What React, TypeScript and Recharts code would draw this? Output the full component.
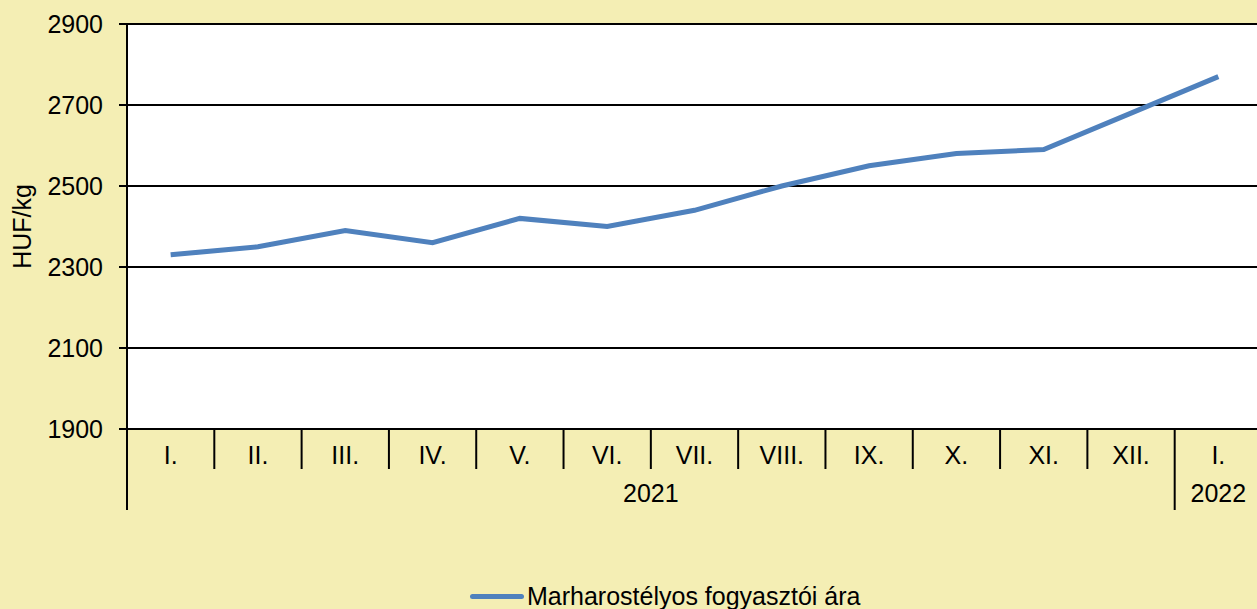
import React from "react"
import { LineChart, Line, XAxis, YAxis, CartesianGrid, Label } from "recharts"

const months = ["I.", "II.", "III.", "IV.", "V.", "VI.", "VII.", "VIII.", "IX.", "X.", "XI.", "XII.", "I."]
const prices = [2330, 2350, 2390, 2360, 2420, 2400, 2440, 2500, 2550, 2580, 2590, 2680, 2770]
const yTicks = [1900, 2100, 2300, 2500, 2700, 2900]
const years = ["2021", "2022"]

const data = months.map((m, i) => ({ idx: i, month: m, price: prices[i] }))
const xTicks = months.map((_, i) => i)

const W = 1257
const H = 609
const RIGHT_OVERHANG = 5
const PLOT_LEFT = 127
const PLOT_TOP = 24
const PLOT_BOTTOM = 429
const BW = (W + RIGHT_OVERHANG - PLOT_LEFT) / months.length
const FONT = "'Liberation Sans', Arial, sans-serif"
const BG = "#F4EEB4"
const LINE = "#4F81BD"

function MonthTick(props: any) {
  const { x, y, payload } = props
  const i = payload.value
  const left = x - BW / 2
  const longSep = i === 0 || i === months.length - 1
  return (
    <g>
      <line x1={left} y1={y} x2={left} y2={longSep ? y + 81 : y + 40} stroke="#000" strokeWidth={2} />
      <text x={x} y={y + 35} textAnchor="middle" fontSize={25} fontFamily={FONT} fill="#000">
        {months[i]}
      </text>
      {i === 0 && (
        <text x={left + (BW * 12) / 2} y={y + 73} textAnchor="middle" fontSize={25} fontFamily={FONT} fill="#000">
          {years[0]}
        </text>
      )}
      {i === months.length - 1 && (
        <text x={x} y={y + 73} textAnchor="middle" fontSize={25} fontFamily={FONT} fill="#000">
          {years[1]}
        </text>
      )}
    </g>
  )
}

export default function App() {
  return (
    <div style={{ position: "absolute", left: 0, top: 0, width: W, height: H, background: BG, fontFamily: FONT, overflow: "hidden" }}>
      <LineChart
        width={W + RIGHT_OVERHANG}
        height={H}
        data={data}
        margin={{ top: PLOT_TOP, right: 0, bottom: H - PLOT_BOTTOM - 100, left: 0 }}
      >
        <CartesianGrid vertical={false} stroke="#000" strokeWidth={2} fill="#fff" fillOpacity={1} />
        <XAxis
          dataKey="idx"
          type="number"
          domain={[-0.5, months.length - 0.5]}
          ticks={xTicks}
          height={100}
          axisLine={false}
          tickLine={false}
          tickSize={0}
          tickMargin={0}
          interval={0}
          tick={<MonthTick />}
        />
        <YAxis
          width={PLOT_LEFT}
          domain={[1900, 2900]}
          ticks={yTicks}
          interval={0}
          axisLine={{ stroke: "#000", strokeWidth: 2 }}
          tickLine={{ stroke: "#000", strokeWidth: 2 }}
          tickSize={8}
          tickMargin={16}
          tick={{ fill: "#000", fontSize: 25, fontFamily: FONT }}
        >
          <Label
            value="HUF/kg"
            angle={-90}
            position="insideLeft"
            offset={22}
            style={{ textAnchor: "middle", fill: "#000", fontSize: 25, fontFamily: FONT }}
          />
        </YAxis>
        <Line
          type="linear"
          dataKey="price"
          stroke={LINE}
          strokeWidth={5}
          dot={false}
          isAnimationActive={false}
        />
      </LineChart>
      <div
        style={{
          position: "absolute",
          top: 584,
          left: 470,
          height: 25,
          lineHeight: "25px",
          display: "flex",
          alignItems: "center",
          fontSize: 25,
          color: "#000",
          whiteSpace: "nowrap",
        }}
      >
        <span style={{ display: "inline-block", width: 54, height: 5, background: LINE, borderRadius: 3, marginRight: 3 }} />
        <span>Marharostélyos fogyasztói ára</span>
      </div>
    </div>
  )
}
